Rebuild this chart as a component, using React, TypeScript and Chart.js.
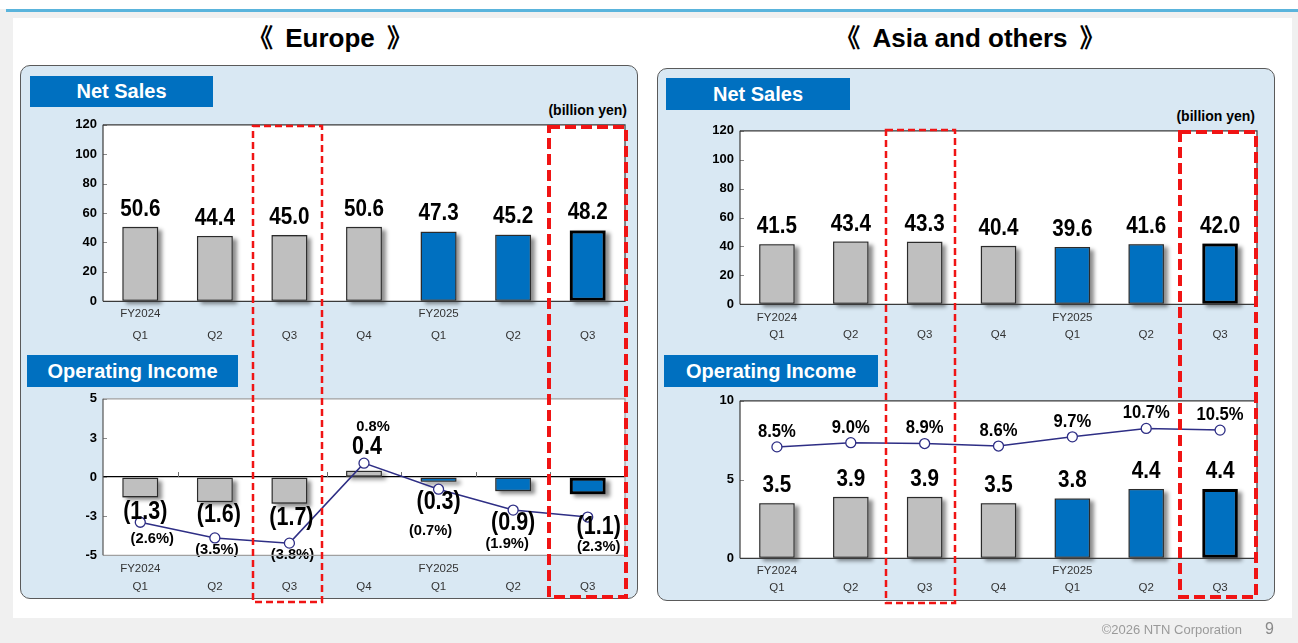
import React, { useEffect, useRef } from 'react';
import { Chart, registerables } from 'chart.js';

Chart.register(...registerables);

const FONT = '"Liberation Sans", Arial, Helvetica, sans-serif';
const NARROW = '"Liberation Sans Narrow", "Liberation Sans", Arial, sans-serif';
const CJK = '"Liberation Sans", "Noto Sans CJK JP", Arial, sans-serif';

// ---------- data ----------
const quarterLabels: string[][] = [
  ['FY2024', 'Q1'], ['', 'Q2'], ['', 'Q3'], ['', 'Q4'],
  ['FY2025', 'Q1'], ['', 'Q2'], ['', 'Q3'],
];
const europeSales = [50.6, 44.4, 45.0, 50.6, 47.3, 45.2, 48.2];
const europeOpIncome = [-1.3, -1.6, -1.7, 0.4, -0.3, -0.9, -1.1];
const europeMargin = [-2.6, -3.5, -3.8, 0.8, -0.7, -1.9, -2.3];
const asiaSales = [41.5, 43.4, 43.3, 40.4, 39.6, 41.6, 42.0];
const asiaOpIncome = [3.5, 3.9, 3.9, 3.5, 3.8, 4.4, 4.4];
const asiaMargin = [8.5, 9.0, 8.9, 8.6, 9.7, 10.7, 10.5];
const salesTickLabels = ['0', '20', '40', '60', '80', '100', '120'];
const europeOiTickLabels = ['-5', '-3', '0', '3', '5'];
const asiaOiTickLabels = ['0', '5', '10'];

// ---------- styles ----------
const GRAY = '#bfbfbf';
const BLUE = '#0070c0';
const NAVY = '#2e2e85';
const RED = '#f01414';

// label offsets (pixels relative to mark)
const euSalesOffsets = [[0, -18], [0, -18], [0, -18], [0, -18], [0, -18], [0, -18], [0, -18]];
const euOiOffsets = [[5, 15], [4, 13], [2, 14], [3, -24], [0, 20], [0, 32], [11, 33]];
const euMarginOffsets = [[12, 16], [2, 12], [3, 12], [9, -36], [-8, 41], [-6, 34], [11, 30]];
const asSalesOffsets = [[0, -17.5], [0, -17.5], [0, -17.5], [0, -17.5], [0, -17.5], [0, -17.5], [0, -17.5]];
const asOiOffsets = [[0, -18], [0, -18], [0, -18], [0, -18], [0, -18], [0, -18], [0, -18]];
const asMarginOffsets = [[0, -15], [0, -15], [0, -15], [0, -15], [0, -15], [0, -15], [0, -15]];

type Rect = { x: number; y: number; w: number; h: number };

const fmtVal = (v: number) => (v < 0 ? `(${Math.abs(v).toFixed(1)})` : v.toFixed(1));
const fmtPct = (v: number) => (v < 0 ? `(${Math.abs(v).toFixed(1)}%)` : `${v.toFixed(1)}%`);

type LabelSpec = { ds: number; fmt: (v: number) => string; font: string; sx: number; offsets: number[][] };

function labelPlugin(specs: LabelSpec[]) {
  return {
    id: 'valueLabels',
    afterDatasetsDraw(chart: any) {
      const ctx = chart.ctx;
      specs.forEach((spec) => {
        const meta = chart.getDatasetMeta(spec.ds);
        const data = chart.data.datasets[spec.ds].data as number[];
        meta.data.forEach((el: any, i: number) => {
          const off = spec.offsets[i] || [0, 0];
          ctx.save();
          ctx.translate(el.x + off[0], el.y + off[1]);
          ctx.scale(spec.sx, 1);
          ctx.font = spec.font;
          ctx.fillStyle = '#000';
          ctx.textAlign = 'center';
          ctx.textBaseline = 'middle';
          ctx.fillText(spec.fmt(data[i]), 0, 0);
          ctx.restore();
        });
      });
    },
  };
}

function framePlugin(opts: { color: string; left: string; zeroTicks: boolean }) {
  return {
    id: 'frame',
    beforeDraw(chart: any) {
      const { ctx, chartArea: a } = chart;
      ctx.save();
      ctx.fillStyle = '#ffffff';
      ctx.fillRect(a.left, a.top, a.right - a.left, a.bottom - a.top);
      ctx.restore();
    },
    beforeDatasetsDraw(chart: any) {
      const { ctx, chartArea: a } = chart;
      const ys = chart.scales.y;
      ctx.save();
      ctx.strokeStyle = '#8a8a8a';
      ctx.lineWidth = 1;
      ys.ticks.forEach((t: any) => {
        const py = Math.round(ys.getPixelForValue(t.value)) + 0.5;
        ctx.beginPath();
        ctx.moveTo(a.left, py);
        ctx.lineTo(a.left + 4, py);
        ctx.stroke();
      });
      if (opts.zeroTicks) {
        const xs = chart.scales.x;
        const zy = ys.getPixelForValue(0);
        const n = chart.data.labels.length;
        const step = (a.right - a.left) / n;
        ctx.strokeStyle = '#6a6a6a';
        for (let i = 1; i < n; i++) {
          const px = Math.round(xs.left + step * i) + 0.5;
          ctx.beginPath();
          ctx.moveTo(px, zy);
          ctx.lineTo(px, zy - 5);
          ctx.stroke();
        }
      }
      ctx.restore();
    },
    afterDraw(chart: any) {
      const { ctx, chartArea: a } = chart;
      ctx.save();
      ctx.lineWidth = 1.2;
      ctx.strokeStyle = opts.color;
      ctx.beginPath();
      ctx.moveTo(a.left, a.top);
      ctx.lineTo(a.right, a.top);
      ctx.lineTo(a.right, a.bottom);
      ctx.lineTo(a.left, a.bottom);
      ctx.stroke();
      ctx.strokeStyle = opts.left;
      ctx.beginPath();
      ctx.moveTo(a.left, a.top);
      ctx.lineTo(a.left, a.bottom);
      ctx.stroke();
      ctx.restore();
    },
  };
}

// soft drop shadow under each bar (drawn before the bars themselves)
const shadowPlugin = {
  id: 'barShadow',
  beforeDatasetDraw(chart: any, args: any) {
    if (args.meta.type !== 'bar') return;
    const ctx = chart.ctx;
    args.meta.data.forEach((el: any) => {
      const { x, y, base, width } = el.getProps(['x', 'y', 'base', 'width'], true);
      const top = Math.min(y, base);
      const h = Math.abs(base - y);
      ctx.save();
      ctx.shadowColor = 'rgba(0,0,0,0.45)';
      ctx.shadowOffsetX = 4;
      ctx.shadowOffsetY = 3;
      ctx.shadowBlur = 4;
      ctx.fillStyle = '#888';
      ctx.fillRect(x - width / 2, top, width, h);
      ctx.restore();
    });
  },
};

type BuildOpts = {
  values: number[];
  margins?: number[];
  yMin: number;
  yMax: number;
  step: number;
  tickLabels: string[];
  y2Min?: number;
  y2Max?: number;
  lineH: number;
  tickPad: number;
  valueOffsets: number[][];
  marginOffsets?: number[][];
  valueFont: string;
  marginFont?: string;
  frameColor: string;
  frameLeft: string;
  zeroLine: boolean;
  zeroTicks: boolean;
};

function buildConfig(o: BuildOpts): any {
  const datasets: any[] = [];
  datasets.push({
    type: 'bar',
    label: 'value',
    data: o.values,
    yAxisID: 'y',
    order: 2,
    backgroundColor: o.values.map((_, i) => (i >= 4 ? BLUE : GRAY)),
    borderColor: o.values.map((_, i) => (i === 6 ? '#000' : '#2b2b2b')),
    borderWidth: o.values.map((_, i) => (i === 6 ? 3 : 1.3)),
    borderSkipped: false,
    barPercentage: 0.48,
    categoryPercentage: 1,
  });
  const specs: LabelSpec[] = [{ ds: 0, fmt: fmtVal, font: o.valueFont, sx: 0.86, offsets: o.valueOffsets }];
  const scales: any = {
    x: {
      grid: { display: false },
      border: { display: false },
      ticks: {
        font: { family: NARROW, size: 11.5, lineHeight: o.lineH / 11.5 },
        color: '#333',
        padding: o.tickPad,
        maxRotation: 0,
        autoSkip: false,
      },
      afterFit: (s: any) => {
        s.height = 50;
      },
    },
    y: {
      min: o.yMin,
      max: o.yMax,
      ticks: {
        stepSize: o.step,
        font: { family: FONT, size: 13, weight: 'bold' },
        color: '#000',
        padding: 6,
        callback: (_v: any, i: number) => o.tickLabels[i],
      },
      grid: {
        drawTicks: false,
        lineWidth: 1.2,
        color: (ctx: any) =>
          o.zeroLine && ctx.tick && ctx.tick.value === 0 ? '#000' : 'rgba(0,0,0,0)',
      },
      border: { display: false },
      afterFit: (s: any) => {
        s.width = 40;
      },
    },
  };
  if (o.margins) {
    datasets.push({
      type: 'line',
      label: 'margin',
      data: o.margins,
      yAxisID: 'y2',
      order: 1,
      borderColor: NAVY,
      borderWidth: 1.5,
      pointRadius: 5,
      pointBackgroundColor: '#fff',
      pointBorderColor: NAVY,
      pointBorderWidth: 1.3,
      tension: 0,
    });
    scales.y2 = { display: false, min: o.y2Min, max: o.y2Max };
    specs.push({ ds: 1, fmt: fmtPct, font: o.marginFont!, sx: 0.95, offsets: o.marginOffsets! });
  }
  return {
    type: 'bar',
    data: { labels: quarterLabels, datasets },
    options: {
      responsive: false,
      maintainAspectRatio: false,
      animation: false,
      layout: { padding: { top: 10, right: 10, left: 0, bottom: 0 } },
      plugins: { legend: { display: false }, tooltip: { enabled: false } },
      scales,
    },
    plugins: [
      framePlugin({ color: o.frameColor, left: o.frameLeft, zeroTicks: o.zeroTicks }),
      shadowPlugin,
      labelPlugin(specs),
    ],
  };
}

function PlotChart({ plot, opts }: { plot: Rect; opts: BuildOpts }) {
  const wrap = useRef<HTMLDivElement>(null);
  const cv = useRef<HTMLCanvasElement>(null);
  useEffect(() => {
    const canvas = cv.current!;
    canvas.width = plot.w + 120;
    canvas.height = plot.h + 100;
    const chart = new Chart(canvas, buildConfig(opts));
    const a = chart.chartArea;
    const mL = a.left;
    const mT = a.top;
    const mR = chart.width - a.right;
    const mB = chart.height - a.bottom;
    chart.resize(plot.w + mL + mR, plot.h + mT + mB);
    const b = chart.chartArea;
    if (wrap.current) {
      wrap.current.style.left = `${plot.x - b.left}px`;
      wrap.current.style.top = `${plot.y - b.top}px`;
    }
    return () => chart.destroy();
  }, []);
  return (
    <div ref={wrap} style={{ position: 'absolute', left: 0, top: 0 }}>
      <canvas ref={cv} style={{ display: 'block' }} />
    </div>
  );
}

const abs = (x: number, y: number, w: number, h: number): React.CSSProperties => ({
  position: 'absolute',
  left: x,
  top: y,
  width: w,
  height: h,
});

function BlueTag({ x, y, w, h, text }: { x: number; y: number; w: number; h: number; text: string }) {
  return (
    <div
      style={{
        ...abs(x, y, w, h),
        background: BLUE,
        color: '#fff',
        fontFamily: FONT,
        fontWeight: 'bold',
        fontSize: 20,
        lineHeight: `${h}px`,
        textAlign: 'center',
      }}
    >
      {text}
    </div>
  );
}

function Title({ x, text }: { x: number; text: string }) {
  return (
    <div style={{ ...abs(x, 21, 660, 34), textAlign: 'center', fontFamily: CJK, fontWeight: 'bold', fontSize: 26, lineHeight: '34px', color: '#000' }}>
      <span>《</span>
      <span style={{ margin: '0 12px' }}>{text}</span>
      <span>》</span>
    </div>
  );
}

export default function App() {
  const euNs: Rect = { x: 103, y: 125, w: 522, h: 176.5 };
  const euOi: Rect = { x: 103, y: 399, w: 522, h: 156.5 };
  const asNs: Rect = { x: 740, y: 130.5, w: 517, h: 173.5 };
  const asOi: Rect = { x: 740, y: 400.5, w: 517, h: 157.5 };

  const big = `bold 24px ${FONT}`;

  return (
    <div style={{ ...abs(0, 0, 1298, 643), position: 'fixed', background: '#f0f0f0', overflow: 'hidden', fontFamily: FONT }}>
      <div style={{ ...abs(0, 0, 1298, 9), background: '#fff' }} />
      <div style={{ ...abs(6, 9, 1292, 2.5), background: '#5ab4dc' }} />
      <div style={{ ...abs(13, 18, 1279, 600), background: '#fff' }} />

      <Title x={0} text="Europe" />
      <Title x={640} text="Asia and others" />

      <div style={{ ...abs(20, 65, 618, 534), background: '#d9e8f3', border: '1.5px solid #5a5a5a', borderRadius: 10, boxSizing: 'border-box' }} />
      <div style={{ ...abs(657, 68, 618, 533), background: '#d9e8f3', border: '1.5px solid #5a5a5a', borderRadius: 10, boxSizing: 'border-box' }} />

      <BlueTag x={30} y={76} w={183} h={31} text="Net Sales" />
      <BlueTag x={27} y={355} w={211} h={32} text="Operating Income" />
      <BlueTag x={666} y={78} w={184} h={32} text="Net Sales" />
      <BlueTag x={664} y={355} w={214} h={32} text="Operating Income" />

      <div style={{ ...abs(480, 101, 147, 18), textAlign: 'right', fontWeight: 'bold', fontSize: 14, lineHeight: '18px' }}>
        (billion yen)
      </div>
      <div style={{ ...abs(1108, 107, 147, 18), textAlign: 'right', fontWeight: 'bold', fontSize: 14, lineHeight: '18px' }}>
        (billion yen)
      </div>

      <PlotChart
        plot={euNs}
        opts={{
          values: europeSales, yMin: 0, yMax: 120, step: 20, tickLabels: salesTickLabels,
          lineH: 22, tickPad: -6.5, valueOffsets: euSalesOffsets, valueFont: big,
          frameColor: '#3a3a3a', frameLeft: '#3a3a3a', zeroLine: false, zeroTicks: false,
        }}
      />
      <PlotChart
        plot={euOi}
        opts={{
          values: europeOpIncome, margins: europeMargin, yMin: -5, yMax: 5, step: 2.5,
          tickLabels: europeOiTickLabels, y2Min: -4.5, y2Max: 4.5, lineH: 18, tickPad: -3.5,
          valueOffsets: euOiOffsets, marginOffsets: euMarginOffsets, valueFont: `bold 25px ${FONT}`,
          marginFont: `bold 15.5px ${FONT}`, frameColor: '#a0a0a0', frameLeft: '#555', zeroLine: true, zeroTicks: true,
        }}
      />
      <PlotChart
        plot={asNs}
        opts={{
          values: asiaSales, yMin: 0, yMax: 120, step: 20, tickLabels: salesTickLabels,
          lineH: 17.5, tickPad: -3.5, valueOffsets: asSalesOffsets, valueFont: big,
          frameColor: '#3a3a3a', frameLeft: '#3a3a3a', zeroLine: false, zeroTicks: false,
        }}
      />
      <PlotChart
        plot={asOi}
        opts={{
          values: asiaOpIncome, margins: asiaMargin, yMin: 0, yMax: 10, step: 5,
          tickLabels: asiaOiTickLabels, y2Min: -4.8, y2Max: 14, lineH: 17.5, tickPad: -4.5,
          valueOffsets: asOiOffsets, marginOffsets: asMarginOffsets, valueFont: big,
          marginFont: `bold 17.5px ${FONT}`, frameColor: '#3a3a3a', frameLeft: '#3a3a3a', zeroLine: false, zeroTicks: false,
        }}
      />

      <svg width={1298} height={643} style={{ position: 'absolute', left: 0, top: 0, pointerEvents: 'none' }}>
        <rect x={253} y={126} width={69} height={476} fill="none" stroke={RED} strokeWidth={2.5} strokeDasharray="7 4" />
        <rect x={549} y={127} width={77} height={470} fill="none" stroke={RED} strokeWidth={4} strokeDasharray="11 5" />
        <rect x={886} y={130} width={69} height={473} fill="none" stroke={RED} strokeWidth={2.5} strokeDasharray="7 4" />
        <rect x={1180} y={132} width={76} height={465} fill="none" stroke={RED} strokeWidth={4} strokeDasharray="11 5" />
      </svg>

      <div style={{ ...abs(1060, 621, 182, 18), textAlign: 'right', fontSize: 13, lineHeight: '18px', color: '#9a9a9a' }}>
        ©2026 NTN Corporation
      </div>
      <div style={{ ...abs(1265, 619, 16, 20), fontSize: 16, lineHeight: '20px', color: '#8a8a8a' }}>9</div>
    </div>
  );
}
